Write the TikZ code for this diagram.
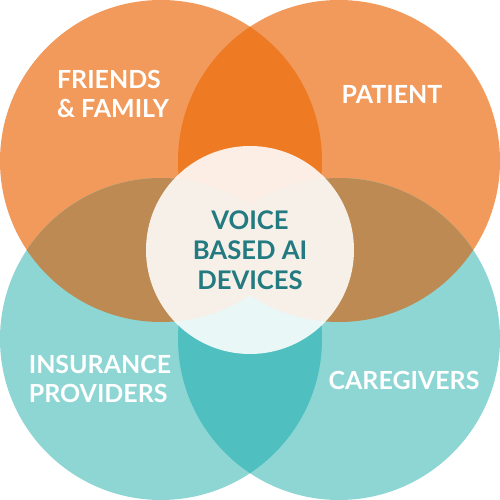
\documentclass[tikz,border=0pt]{standalone}
\usepackage{fontspec}
\setmainfont{Lato}
\definecolor{orangelt}{HTML}{F19A5B}
\definecolor{orangedk}{HTML}{EE7A23}
\definecolor{teallt}{HTML}{8DD6D4}
\definecolor{tealdk}{HTML}{4FBFBF}
\definecolor{brownmix}{HTML}{BC8A52}
\definecolor{textteal}{HTML}{237A80}

\begin{document}
\begin{tikzpicture}[
        lbl/.style={text=white,font=\bfseries\fontsize{14.2}{16.5}\selectfont},
        hub/.style={circle,minimum size=4.16cm,fill=white,fill opacity=0.88,text opacity=1,
                    text=textteal,font=\bfseries\fontsize{14.6}{17}\selectfont,align=center}]
        \useasboundingbox(-5,-5)rectangle(5,5);
        \def\rad{3.22}
        \coordinate(tl)at(-1.78,1.78);
        \coordinate(tr)at(1.78,1.78);
        \coordinate(bl)at(-1.78,-1.78);
        \coordinate(br)at(1.78,-1.78);
        % plain circles
        \fill[orangelt](tl)circle(\rad);
        \fill[orangelt](tr)circle(\rad);
        \fill[teallt](bl)circle(\rad);
        \fill[teallt](br)circle(\rad);
        % overlaps
        \begin{scope}
            \clip(bl)circle(\rad);
            \fill[tealdk](br)circle(\rad);
        \end{scope}
        \begin{scope}
            \clip(tl)circle(\rad);
            \fill[orangedk](tr)circle(\rad);
            \fill[brownmix](bl)circle(\rad);
            \fill[brownmix](br)circle(\rad);
        \end{scope}
        \begin{scope}
            \clip(tr)circle(\rad);
            \fill[brownmix](bl)circle(\rad);
            \fill[brownmix](br)circle(\rad);
        \end{scope}
        \node[hub](voice)at(0,0){VOICE\\BASED AI\\DEVICES};
        \node[lbl,align=left](friends)at(-2.74,3.12){FRIENDS\\\& FAMILY};
        \node[lbl](patient)at(2.84,3.12){PATIENT};
        \node[lbl,align=left](insurance)at(-3.0,-2.58){INSURANCE\\PROVIDERS};
        \node[lbl](caregivers)at(3.08,-2.6){CAREGIVERS};
    \end{tikzpicture}
\end{document}
